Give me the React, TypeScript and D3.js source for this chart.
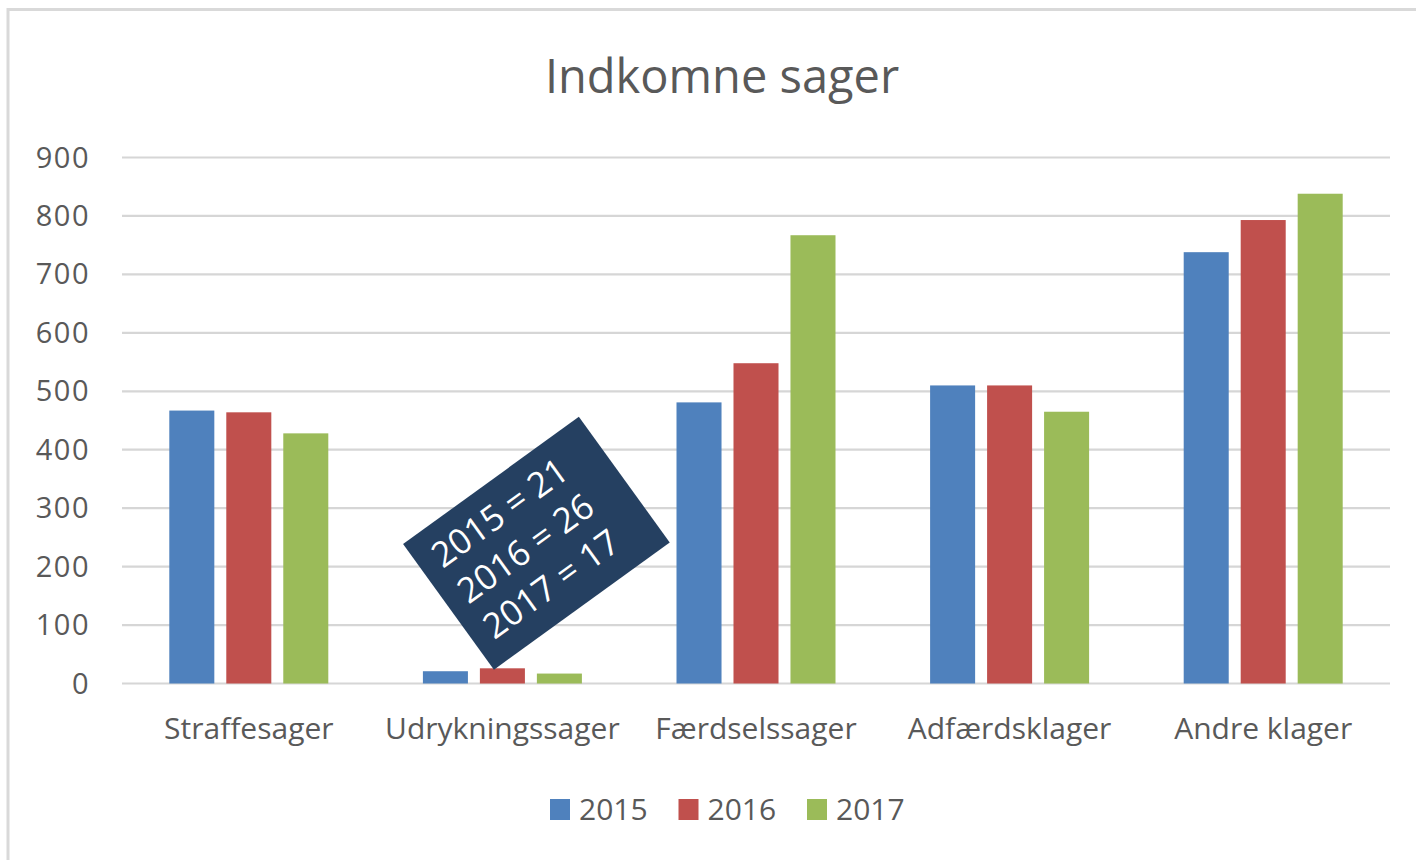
import React from 'react';
import * as d3 from 'd3';

const categories = ['Straffesager', 'Udrykningssager', 'Færdselssager', 'Adfærdsklager', 'Andre klager'];
const years = ['2015', '2016', '2017'];
const values2015 = [467, 21, 481, 510, 738];
const values2016 = [464, 26, 548, 510, 793];
const values2017 = [428, 17, 767, 465, 838];
const yTicks = [0, 100, 200, 300, 400, 500, 600, 700, 800, 900];
const seriesColors = ['#4F81BD', '#C0504D', '#9BBB59'];
const title = 'Indkomne sager';
const noteCategory = 'Udrykningssager';

const W = 1416;
const H = 860;
const FONT = '"Open Sans", "Noto Sans", sans-serif';
const TEXT = '#595959';

export default function App() {
  const series = [values2015, values2016, values2017];
  const x = d3.scaleBand<string>().domain(categories).range([122, 1390]).paddingInner(0).paddingOuter(0);
  const xs = d3.scaleBand<string>().domain(years).range([0, x.bandwidth()]).paddingInner(0.21).paddingOuter(0.83);
  const y = d3.scaleLinear().domain([0, 900]).range([683.5, 157.5]);

  const noteIdx = categories.indexOf(noteCategory);
  const noteCx = (x(noteCategory) as number) + x.bandwidth() / 2 + 34;
  const noteCy = y(240);
  const noteLines = years.map((yr, i) => `${yr} = ${series[i][noteIdx]}`);

  const legendStep = 128.5;
  const legendX0 = 550;

  return (
    <svg width={W} height={H} style={{ position: 'absolute', left: 0, top: 0, display: 'block', background: '#fff' }}>
      <rect x={0} y={0} width={W} height={H} fill="#fff" />
      <line x1={8.5} y1={9.5} x2={W} y2={9.5} stroke="#d9d9d9" strokeWidth={3} />
      <line x1={8} y1={8} x2={8} y2={H} stroke="#d9d9d9" strokeWidth={3} />

      <text x={722} y={93} textAnchor="middle" fontFamily={FONT} fontSize={47} fill={TEXT}>{title}</text>

      {yTicks.map((t) => (
        <g key={t}>
          <line x1={122} x2={1390} y1={y(t)} y2={y(t)} stroke="#d6d6d6" strokeWidth={2.2} />
          <text x={90} y={y(t) + 10} textAnchor="end" fontFamily={FONT} fontSize={29} letterSpacing={1.5} fill={TEXT}>{t}</text>
        </g>
      ))}

      {categories.map((c, ci) => (
        <g key={c} transform={`translate(${x(c)},0)`}>
          {years.map((yr, si) => {
            const v = series[si][ci];
            return (
              <rect
                key={yr}
                x={xs(yr)}
                y={y(v)}
                width={xs.bandwidth()}
                height={y(0) - y(v)}
                fill={seriesColors[si]}
              />
            );
          })}
          <text x={x.bandwidth() / 2} y={739} textAnchor="middle" fontFamily={FONT} fontSize={30} fill={TEXT}>{c}</text>
        </g>
      ))}

      <g transform={`translate(${noteCx},${noteCy}) rotate(-35.9)`}>
        <rect x={-108.5} y={-77.5} width={217} height={155} fill="#254061" />
        {noteLines.map((s, i) => (
          <text key={s} x={-91} y={-34 + i * 44} fontFamily={FONT} fontSize={35} fill="#ffffff">{s}</text>
        ))}
      </g>

      {years.map((yr, i) => (
        <g key={yr} transform={`translate(${legendX0 + i * legendStep},0)`}>
          <rect x={0} y={799} width={20} height={21} fill={seriesColors[i]} />
          <text x={29} y={820} fontFamily={FONT} fontSize={30} fill={TEXT}>{yr}</text>
        </g>
      ))}
    </svg>
  );
}
